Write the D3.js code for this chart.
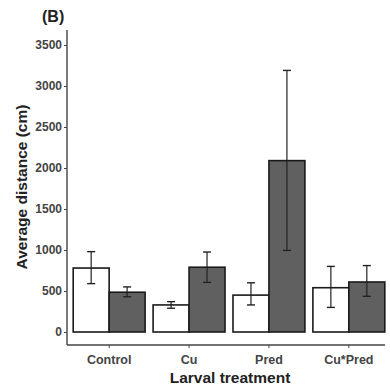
<!DOCTYPE html>
<html>
<head>
<meta charset="utf-8">
<script src="https://cdn.jsdelivr.net/npm/d3@7"></script>
<style>
  body { margin: 0; background: #fff; }
  svg text { font-family: "Liberation Sans", Arial, sans-serif; }
</style>
</head>
<body>
<svg id="chart" width="390" height="392"></svg>
<script>
// data
const treatments = ['Control', 'Cu', 'Pred', 'Cu*Pred'];
const groups = ['white', 'dark'];
const meanWhite = [780, 330, 450, 540];
const lowWhite = [590, 290, 330, 300];
const highWhite = [980, 370, 600, 800];
const meanDark = [485, 790, 2090, 610];
const lowDark = [430, 605, 995, 435];
const highDark = [550, 975, 3190, 810];
const yTicks = [0, 500, 1000, 1500, 2000, 2500, 3000, 3500];

const svg = d3.select('#chart');
const axisLeftX = 67, axisRightX = 385, axisTop = 30, axisBottom = 345;
const y0 = 332;

const x = d3.scaleBand().domain(treatments).range([70, 388]).paddingInner(0.1).paddingOuter(0.04);
const xInner = d3.scaleBand().domain(groups).range([0, x.bandwidth()]);
const y = d3.scaleLinear().domain([0, 3500]).range([y0, 45]);

const rows = [];
treatments.forEach((t, i) => {
    rows.push({ t, g: 'white', mean: meanWhite[i], lo: lowWhite[i], hi: highWhite[i] });
    rows.push({ t, g: 'dark', mean: meanDark[i], lo: lowDark[i], hi: highDark[i] });
});

// bars
svg.selectAll('rect.bar').data(rows).enter().append('rect')
    .attr('class', 'bar')
    .attr('x', d => x(d.t) + xInner(d.g))
    .attr('y', d => y(d.mean))
    .attr('width', xInner.bandwidth())
    .attr('height', d => y(0) - y(d.mean))
    .attr('fill', d => d.g === 'white' ? '#ffffff' : '#606060')
    .attr('stroke', '#1a1a1a')
    .attr('stroke-width', 1.6);

// error bars
const eb = svg.selectAll('g.err').data(rows).enter().append('g')
    .attr('class', 'err')
    .attr('transform', d => `translate(${x(d.t) + xInner(d.g) + xInner.bandwidth() / 2},0)`);
eb.append('line').attr('y1', d => y(d.lo)).attr('y2', d => y(d.hi))
    .attr('stroke', '#222').attr('stroke-width', 1.2);
eb.append('line').attr('x1', -4).attr('x2', 4).attr('y1', d => y(d.lo)).attr('y2', d => y(d.lo))
    .attr('stroke', '#222').attr('stroke-width', 1.4);
eb.append('line').attr('x1', -4).attr('x2', 4).attr('y1', d => y(d.hi)).attr('y2', d => y(d.hi))
    .attr('stroke', '#222').attr('stroke-width', 1.4);

// axes
const yAxis = svg.append('g').attr('transform', `translate(${axisLeftX},0)`)
    .call(d3.axisLeft(y).tickValues(yTicks).tickSize(3).tickPadding(2).tickFormat(d3.format('d')));
yAxis.select('.domain').attr('d', `M0,${axisTop}V${axisBottom}`);

const xAxis = svg.append('g').attr('transform', `translate(0,${axisBottom})`)
    .call(d3.axisBottom(x).tickSize(3).tickPadding(7));
xAxis.select('.domain').attr('d', `M${axisLeftX},0H${axisRightX}`);

svg.selectAll('.domain').attr('stroke', '#444').attr('stroke-width', 1.4);
svg.selectAll('.tick line').attr('stroke', '#444');
svg.selectAll('.tick text').attr('fill', '#444').attr('font-size', 12).attr('font-weight', 'bold');
xAxis.selectAll('.tick text').attr('font-size', 12.5);

// labels
svg.append('text').attr('x', 42).attr('y', 22).attr('font-size', 16).attr('font-weight', 'bold')
    .attr('fill', '#222').text('(B)');
svg.append('text').attr('transform', 'translate(27,187) rotate(-90)')
    .attr('text-anchor', 'middle').attr('font-size', 15.5).attr('font-weight', 'bold').attr('fill', '#222')
    .text('Average distance (cm)');
svg.append('text').attr('x', 230).attr('y', 383)
    .attr('text-anchor', 'middle').attr('font-size', 15.5).attr('font-weight', 'bold').attr('fill', '#222')
    .text('Larval treatment');
</script>
</body>
</html>
